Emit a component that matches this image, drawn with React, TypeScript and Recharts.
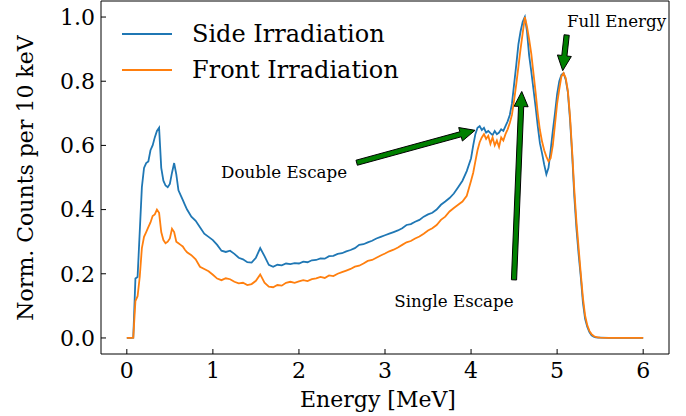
import React from 'react';
import { LineChart, Line, XAxis, YAxis, ReferenceLine, ReferenceDot, Legend } from 'recharts';

const FONT = '"DejaVu Serif", serif';

// energy bins in MeV
const energies = [
  0, 0.025, 0.05, 0.075, 0.1, 0.125, 0.15, 0.175, 0.2, 0.225, 0.25, 0.275, 0.3, 0.325, 0.35,
  0.375, 0.4, 0.425, 0.45, 0.475, 0.5, 0.525, 0.55, 0.575, 0.6, 0.625, 0.65, 0.675, 0.7,
  0.75, 0.8, 0.85, 0.9, 0.95,
  1.0, 1.05, 1.1, 1.15, 1.2, 1.25, 1.3, 1.35, 1.4, 1.45,
  1.5, 1.55, 1.6, 1.65, 1.7, 1.75, 1.8, 1.85, 1.9, 1.95,
  2.0, 2.05, 2.1, 2.15, 2.2, 2.25, 2.3, 2.35, 2.4, 2.45,
  2.5, 2.55, 2.6, 2.65, 2.7, 2.75, 2.8, 2.85, 2.9, 2.95,
  3.0, 3.05, 3.1, 3.15, 3.2, 3.25, 3.3, 3.35, 3.4, 3.45,
  3.5, 3.55, 3.6, 3.65, 3.7, 3.75, 3.8, 3.85, 3.9, 3.95,
  4.0,
  4.025, 4.05, 4.075, 4.1, 4.125, 4.15, 4.175, 4.2, 4.225, 4.25, 4.275, 4.3,
  4.325, 4.35, 4.375, 4.4, 4.425, 4.45, 4.475, 4.5, 4.525, 4.55, 4.575, 4.6,
  4.625, 4.65, 4.675, 4.7, 4.725, 4.75, 4.775, 4.8, 4.825, 4.85, 4.875, 4.9,
  4.925, 4.95, 4.975, 5.0, 5.025, 5.05, 5.075, 5.1, 5.125, 5.15, 5.175, 5.2,
  5.225, 5.25, 5.275, 5.3, 5.325, 5.35, 5.375, 5.4, 5.425, 5.45, 5.475, 5.5,
  5.6, 5.7, 5.8, 5.9, 6.0,
];

const sideIrradiation = [
  0, 0, 0, 0.001, 0.185, 0.19, 0.33, 0.47, 0.53, 0.545, 0.55, 0.585, 0.6, 0.625, 0.645,
  0.655, 0.53, 0.49, 0.475, 0.47, 0.48, 0.515, 0.545, 0.51, 0.46, 0.445, 0.43, 0.415, 0.4,
  0.378, 0.365, 0.345, 0.325, 0.315,
  0.305, 0.29, 0.272, 0.268, 0.272, 0.262, 0.25, 0.245, 0.236, 0.235,
  0.25, 0.28, 0.255, 0.228, 0.222, 0.228, 0.226, 0.232, 0.23, 0.233,
  0.232, 0.238, 0.236, 0.242, 0.243, 0.248, 0.247, 0.255, 0.256, 0.262,
  0.264, 0.27, 0.274, 0.28, 0.29, 0.292, 0.298, 0.303, 0.31, 0.315,
  0.32, 0.325, 0.33, 0.335, 0.342, 0.352, 0.355, 0.362, 0.368, 0.378,
  0.385, 0.39, 0.4, 0.415, 0.425, 0.436, 0.45, 0.47, 0.49, 0.52,
  0.56,
  0.6, 0.635, 0.655, 0.66, 0.648, 0.655, 0.64, 0.645, 0.638, 0.632, 0.645, 0.635,
  0.64, 0.65, 0.645, 0.66, 0.675, 0.695, 0.73, 0.79, 0.85, 0.915, 0.955, 0.985,
  1.0, 0.955, 0.88, 0.83, 0.775, 0.72, 0.66, 0.607, 0.575, 0.54, 0.51, 0.53,
  0.585, 0.645, 0.7, 0.76, 0.8, 0.82, 0.825, 0.805, 0.765, 0.68, 0.57, 0.44,
  0.34, 0.26, 0.19, 0.11, 0.06, 0.035, 0.018, 0.008, 0.004, 0.002, 0.001, 0.001,
  0, 0, 0, 0, 0,
];

const frontIrradiation = [
  0, 0, 0, 0.001, 0.115, 0.13, 0.19, 0.28, 0.315, 0.33, 0.345, 0.36, 0.38, 0.385, 0.4,
  0.39, 0.33, 0.305, 0.295, 0.3, 0.31, 0.34, 0.33, 0.3, 0.295, 0.29, 0.285, 0.275, 0.267,
  0.258, 0.245, 0.222, 0.215, 0.208,
  0.197, 0.185, 0.18, 0.186, 0.183, 0.175, 0.17, 0.172, 0.165, 0.168,
  0.178, 0.198, 0.172, 0.16, 0.158, 0.165, 0.163, 0.172, 0.175, 0.172,
  0.176, 0.18, 0.177, 0.183, 0.186, 0.19, 0.187, 0.195, 0.193, 0.2,
  0.205, 0.21, 0.215, 0.222, 0.225, 0.232, 0.24, 0.243, 0.25, 0.257,
  0.263, 0.27, 0.275, 0.282, 0.29, 0.298, 0.302, 0.31, 0.316, 0.325,
  0.335, 0.342, 0.352, 0.368, 0.378, 0.394, 0.405, 0.415, 0.425, 0.443,
  0.49,
  0.515, 0.55, 0.585, 0.61, 0.625, 0.635, 0.62, 0.63, 0.605, 0.625, 0.6, 0.615,
  0.595, 0.625, 0.615, 0.635, 0.65, 0.67, 0.695, 0.74, 0.79, 0.845, 0.9, 0.95,
  1.0, 0.97, 0.93, 0.885, 0.825, 0.765, 0.7, 0.648, 0.612, 0.585, 0.565, 0.55,
  0.56, 0.6, 0.665, 0.73, 0.775, 0.815, 0.825, 0.81, 0.77, 0.69, 0.58, 0.46,
  0.36, 0.28, 0.2, 0.125, 0.07, 0.04, 0.022, 0.012, 0.006, 0.003, 0.002, 0.001,
  0, 0, 0, 0, 0,
];

const xTicks = [0, 1, 2, 3, 4, 5, 6];
const yTicks = [0, 0.2, 0.4, 0.6, 0.8, 1.0];

const seriesNames = ['Side Irradiation', 'Front Irradiation'];
const seriesColors = ['#1f77b4', '#ff7f0e'];

// [text x, text y], arrow tail, arrow tip (data units)
const annotationLabels = ['Double Escape', 'Single Escape', 'Full Energy'];
const annotationText = [[1.095, 0.498], [3.108, 0.098], [5.115, 0.968]];
const annotationTail = [[2.671, 0.546], [4.499, 0.181], [5.111, 0.944]];
const annotationTip = [[4.046, 0.647], [4.589, 0.768], [5.065, 0.833]];

const data = energies.map((e, i) => ({
  energy: e,
  side: sideIrradiation[i],
  front: frontIrradiation[i],
}));

function XTick({ x, y, payload }: any) {
  return (
    <g>
      <line x1={x} y1={y} x2={x} y2={y - 5} stroke="#000" strokeWidth={1} />
      <text x={x} y={y + 8} dy="0.71em" textAnchor="middle" fontSize={22} fontFamily={FONT} fill="#000">
        {payload.value}
      </text>
    </g>
  );
}

function YTick({ x, y, payload }: any) {
  return (
    <g>
      <line x1={x} y1={y} x2={x + 5} y2={y} stroke="#000" strokeWidth={1} />
      <text x={x - 6} y={y} dy="0.355em" textAnchor="end" fontSize={22} fontFamily={FONT} fill="#000">
        {Number(payload.value).toFixed(1)}
      </text>
    </g>
  );
}

function Arrow({ x1, y1, x2, y2 }: any) {
  const len = Math.hypot(x2 - x1, y2 - y1);
  const ux = (x2 - x1) / len;
  const uy = (y2 - y1) / len;
  const nx = -uy;
  const ny = ux;
  const shaft = 2.6;
  const head = 7;
  const headLen = 15;
  const bx = x2 - ux * headLen;
  const by = y2 - uy * headLen;
  const pts = [
    [x1 + nx * shaft, y1 + ny * shaft],
    [bx + nx * shaft, by + ny * shaft],
    [bx + nx * head, by + ny * head],
    [x2, y2],
    [bx - nx * head, by - ny * head],
    [bx - nx * shaft, by - ny * shaft],
    [x1 - nx * shaft, y1 - ny * shaft],
  ];
  return (
    <polygon
      points={pts.map((p) => p.join(',')).join(' ')}
      fill="#008000"
      stroke="#000"
      strokeWidth={1}
      strokeLinejoin="miter"
    />
  );
}

function renderLegend() {
  return (
    <div style={{ fontFamily: FONT, fontSize: 24, color: '#000' }}>
      {seriesNames.map((name, i) => (
        <div key={name} style={{ display: 'flex', alignItems: 'center', height: 36 }}>
          <div style={{ width: 50, height: 2, background: seriesColors[i], marginRight: 20 }} />
          <span style={{ whiteSpace: 'nowrap' }}>{name}</span>
        </div>
      ))}
    </div>
  );
}

export default function App() {
  return (
    <div style={{ position: 'absolute', left: 0, top: 0, width: 686, height: 416, background: '#fff' }}>
      <LineChart width={686} height={416} data={data} margin={{ top: 1, right: 17, bottom: 0, left: 0 }}>
        <XAxis
          dataKey="energy"
          type="number"
          domain={[-0.3, 6.3]}
          ticks={xTicks}
          interval={0}
          allowDataOverflow
          height={62}
          tickSize={0}
          tickMargin={0}
          tickLine={false}
          tick={<XTick />}
          axisLine={{ stroke: '#000', strokeWidth: 1 }}
          label={() => (
            <text x={378} y={407} textAnchor="middle" fontSize={22} fontFamily={FONT} fill="#000">
              Energy [MeV]
            </text>
          )}
        />
        <YAxis
          type="number"
          domain={[-0.05, 1.05]}
          ticks={yTicks}
          interval={0}
          allowDataOverflow
          width={101}
          tickSize={0}
          tickMargin={0}
          tickLine={false}
          tick={<YTick />}
          axisLine={{ stroke: '#000', strokeWidth: 1 }}
          label={() => (
            <text
              transform="translate(33,178) rotate(-90)"
              textAnchor="middle"
              fontSize={22}
              fontFamily={FONT}
              fill="#000"
            >
              Norm. Counts per 10 keV
            </text>
          )}
        />
        <ReferenceLine y={1.05} stroke="#000" strokeWidth={1} ifOverflow="visible" />
        <ReferenceLine x={6.3} stroke="#000" strokeWidth={1} ifOverflow="visible" />
        <Line
          dataKey="side"
          name={seriesNames[0]}
          stroke={seriesColors[0]}
          strokeWidth={1.8}
          dot={false}
          type="linear"
          isAnimationActive={false}
        />
        <Line
          dataKey="front"
          name={seriesNames[1]}
          stroke={seriesColors[1]}
          strokeWidth={1.8}
          dot={false}
          type="linear"
          isAnimationActive={false}
        />
        {annotationLabels.map((label, i) => (
          <ReferenceLine
            key={`arrow-${label}`}
            segment={[
              { x: annotationTail[i][0], y: annotationTail[i][1] },
              { x: annotationTip[i][0], y: annotationTip[i][1] },
            ]}
            ifOverflow="visible"
            shape={(p: any) => <Arrow {...p} />}
          />
        ))}
        {annotationLabels.map((label, i) => (
          <ReferenceDot
            key={`text-${label}`}
            x={annotationText[i][0]}
            y={annotationText[i][1]}
            r={0}
            ifOverflow="visible"
            shape={(p: any) => (
              <text x={p.cx} y={p.cy} fontSize={16.7} fontFamily={FONT} fill="#000">
                {label}
              </text>
            )}
          />
        ))}
        <Legend
          layout="vertical"
          verticalAlign="middle"
          align="center"
          wrapperStyle={{ left: 122, top: 15.5, width: 'auto', height: 'auto' }}
          content={renderLegend}
        />
      </LineChart>
    </div>
  );
}
